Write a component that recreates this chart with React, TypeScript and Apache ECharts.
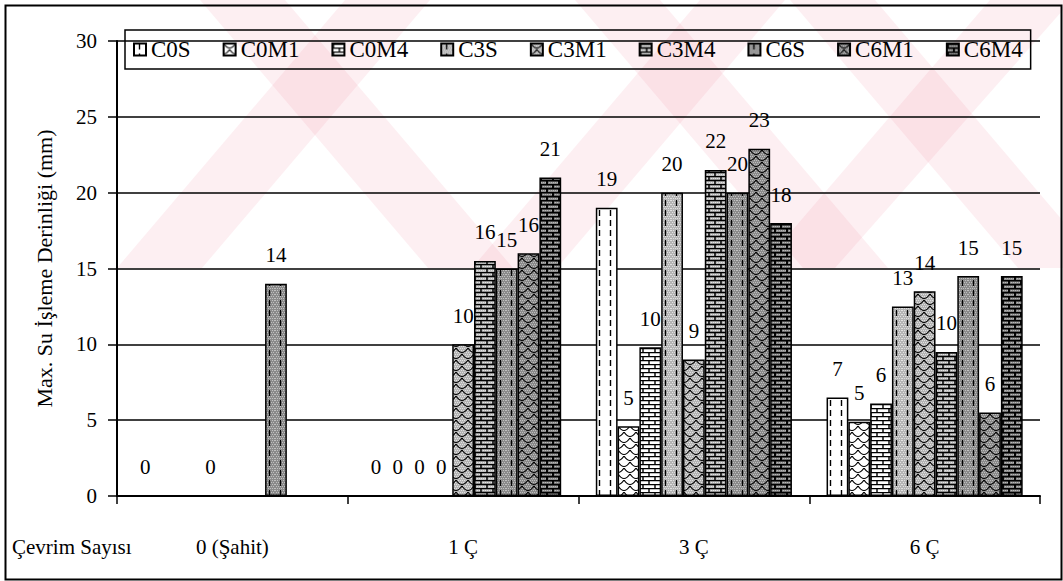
import React, { useEffect, useRef } from "react";
import * as echarts from "echarts";

const categories = ["0 (Şahit)", "1 Ç", "3 Ç", "6 Ç"];
const seriesNames = ["C0S", "C0M1", "C0M4", "C3S", "C3M1", "C3M4", "C6S", "C6M1", "C6M4"];
const C0S = [0, 0, 19, 6.5];
const C0M1 = [null, 0, 4.6, 4.9];
const C0M4 = [null, 0, 9.8, 6.1];
const C3S = [0, 0, 20, 12.5];
const C3M1 = [null, 10, 9, 13.5];
const C3M4 = [null, 15.5, 21.5, 9.5];
const C6S = [14, 15, 20, 14.5];
const C6M1 = [null, 16, 22.9, 5.5];
const C6M4 = [null, 21, 18, 14.5];
const seriesValues = [C0S, C0M1, C0M4, C3S, C3M1, C3M4, C6S, C6M1, C6M4];
const yMin = 0;
const yMax = 30;
const yStep = 5;
const yAxisTitle = "Max. Su İşleme Derinliği (mm)";
const xAxisTitle = "Çevrim Sayısı";

const FONT = "Times New Roman, Liberation Serif, DejaVu Serif, serif";

function tile(w: number, h: number, body: string) {
  const svg = `<svg xmlns='http://www.w3.org/2000/svg' width='${w}' height='${h}'>${body}</svg>`;
  return {
    image: "data:image/svg+xml;charset=utf-8," + encodeURIComponent(svg),
    repeat: "repeat",
    imageWidth: w,
    imageHeight: h,
  };
}

function stipple(bg: string, dot: string, w: number, h: number) {
  let s = `<rect width='${w}' height='${h}' fill='${bg}'/>`;
  for (let y = 0; y < h; y += 2) {
    for (let x = (y / 2) % 2; x < w; x += 2) {
      s += `<rect x='${x}' y='${y}' width='1' height='1' fill='${dot}'/>`;
    }
  }
  return s;
}

function dashPattern(bg: string, dot: string | null) {
  const w = 11, h = 10;
  const base = dot ? stipple(bg, dot, w, h) : `<rect width='${w}' height='${h}' fill='${bg}'/>`;
  return tile(w, h, base + `<line x1='5.5' y1='0' x2='5.5' y2='6' stroke='#000' stroke-width='1.4'/>`);
}

function scalePattern(bg: string, dot: string | null) {
  const w = 12, h = 12;
  const base = dot ? stipple(bg, dot, w, h) : `<rect width='${w}' height='${h}' fill='${bg}'/>`;
  return tile(
    w,
    h,
    base +
      `<path d='M0,0 Q6,9 12,0 M-6,6 Q0,15 6,6 M6,6 Q12,15 18,6 M-6,-6 Q0,3 6,-6 M6,-6 Q12,3 18,-6' fill='none' stroke='#000' stroke-width='1.2'/>`
  );
}

function brickPattern(bg: string, dot: string | null, mortar: number) {
  const w = 12, h = 8;
  const base = dot ? stipple(bg, dot, w, h) : `<rect width='${w}' height='${h}' fill='${bg}'/>`;
  return tile(
    w,
    h,
    base +
      `<path d='M0,0.6 H12 M0,4.6 H12 M1,0 V4 M7,4 V8' fill='none' stroke='#000' stroke-width='${mortar}'/>`
  );
}

const patterns = [
  dashPattern("#ffffff", null),
  scalePattern("#ffffff", null),
  brickPattern("#ffffff", null, 1.4),
  dashPattern("#b4b4b4", "#e0e0e0"),
  scalePattern("#b4b4b4", "#e0e0e0"),
  brickPattern("#bcbcbc", "#e4e4e4", 1.5),
  dashPattern("#8a8a8a", "#c0c0c0"),
  scalePattern("#8a8a8a", "#bdbdbd"),
  brickPattern("#8c8c8c", "#b8b8b8", 1.9),
];

const pink = "rgba(240, 120, 145, 0.12)";
const watermark = [
  [[345, 0], [430, 0], [202, 268], [117, 268]],
  [[200, 0], [285, 0], [513, 268], [428, 268]],
  [[700, 0], [785, 0], [557, 268], [472, 268]],
  [[575, 0], [660, 0], [888, 268], [803, 268]],
  [[790, 0], [875, 0], [1063, 221], [1063, 268], [1018, 268]],
  [[990, 0], [1063, 0], [1063, 10], [835, 268], [760, 268]],
];

export default function App() {
  const ref = useRef<HTMLDivElement>(null);
  useEffect(() => {
    if (!ref.current) return;
    const chart = echarts.init(ref.current, undefined, { renderer: "svg" });
    const option: any = {
      animation: false,
      backgroundColor: "#ffffff",
      textStyle: { fontFamily: FONT, color: "#000" },
      grid: { left: 117, right: 23, top: 41, bottom: 85 },
      legend: {
        top: 30,
        left: 125,
        width: 930,
        data: seriesNames,
        orient: "horizontal",
        itemWidth: 12,
        itemHeight: 12,
        itemGap: 32,
        padding: [8, 8, 8, 8],
        borderColor: "#000",
        borderWidth: 1.5,
        backgroundColor: "transparent",
        icon: "rect",
        textStyle: { fontFamily: FONT, fontSize: 23, color: "#000" },
      },
      xAxis: {
        type: "category",
        data: categories,
        axisLine: { lineStyle: { color: "#000", width: 2 } },
        axisTick: { show: true, length: 8, lineStyle: { color: "#000", width: 1.5 } },
        axisLabel: { margin: 40, fontFamily: FONT, fontSize: 21, color: "#000" },
      },
      yAxis: {
        type: "value",
        min: yMin,
        max: yMax,
        interval: yStep,
        name: yAxisTitle,
        nameLocation: "middle",
        nameGap: 62,
        nameTextStyle: { fontFamily: FONT, fontSize: 22, color: "#000" },
        axisLine: { show: true, lineStyle: { color: "#000", width: 2 } },
        axisTick: { show: true, length: 9, lineStyle: { color: "#000", width: 1.5 } },
        axisLabel: { margin: 20, fontFamily: FONT, fontSize: 21, color: "#000" },
        splitLine: { show: true, lineStyle: { color: "#000", width: 1.5 } },
      },
      graphic: [
        ...watermark.map((pts) => ({
          type: "polygon",
          z: -10,
          silent: true,
          shape: { points: pts },
          style: { fill: pink },
        })),
        {
          type: "rect",
          left: 3,
          top: 3,
          z: 100,
          silent: true,
          shape: { width: 1056, height: 574 },
          style: { fill: "none", stroke: "#000", lineWidth: 2 },
        },
        {
          type: "text",
          left: 12,
          top: 536,
          style: { text: xAxisTitle, fontFamily: FONT, fontSize: 21, fill: "#000" },
        },
      ],
      series: seriesNames.map((name, i) => ({
        name,
        type: "bar",
        data: seriesValues[i],
        barGap: "0%",
        barCategoryGap: "15%",
        itemStyle: { color: patterns[i], borderColor: "#000", borderWidth: 1.5 },
        label: {
          show: true,
          position: "top",
          distance: 18,
          fontFamily: FONT,
          fontSize: 21,
          color: "#000",
          formatter: (p: any) => (p.value == null ? "" : String(Math.round(p.value))),
        },
      })),
    };
    chart.setOption(option);
    return () => chart.dispose();
  }, []);
  return (
    <div
      ref={ref}
      style={{ position: "fixed", left: 0, top: 0, width: 1063, height: 581, background: "#fff" }}
    />
  );
}
